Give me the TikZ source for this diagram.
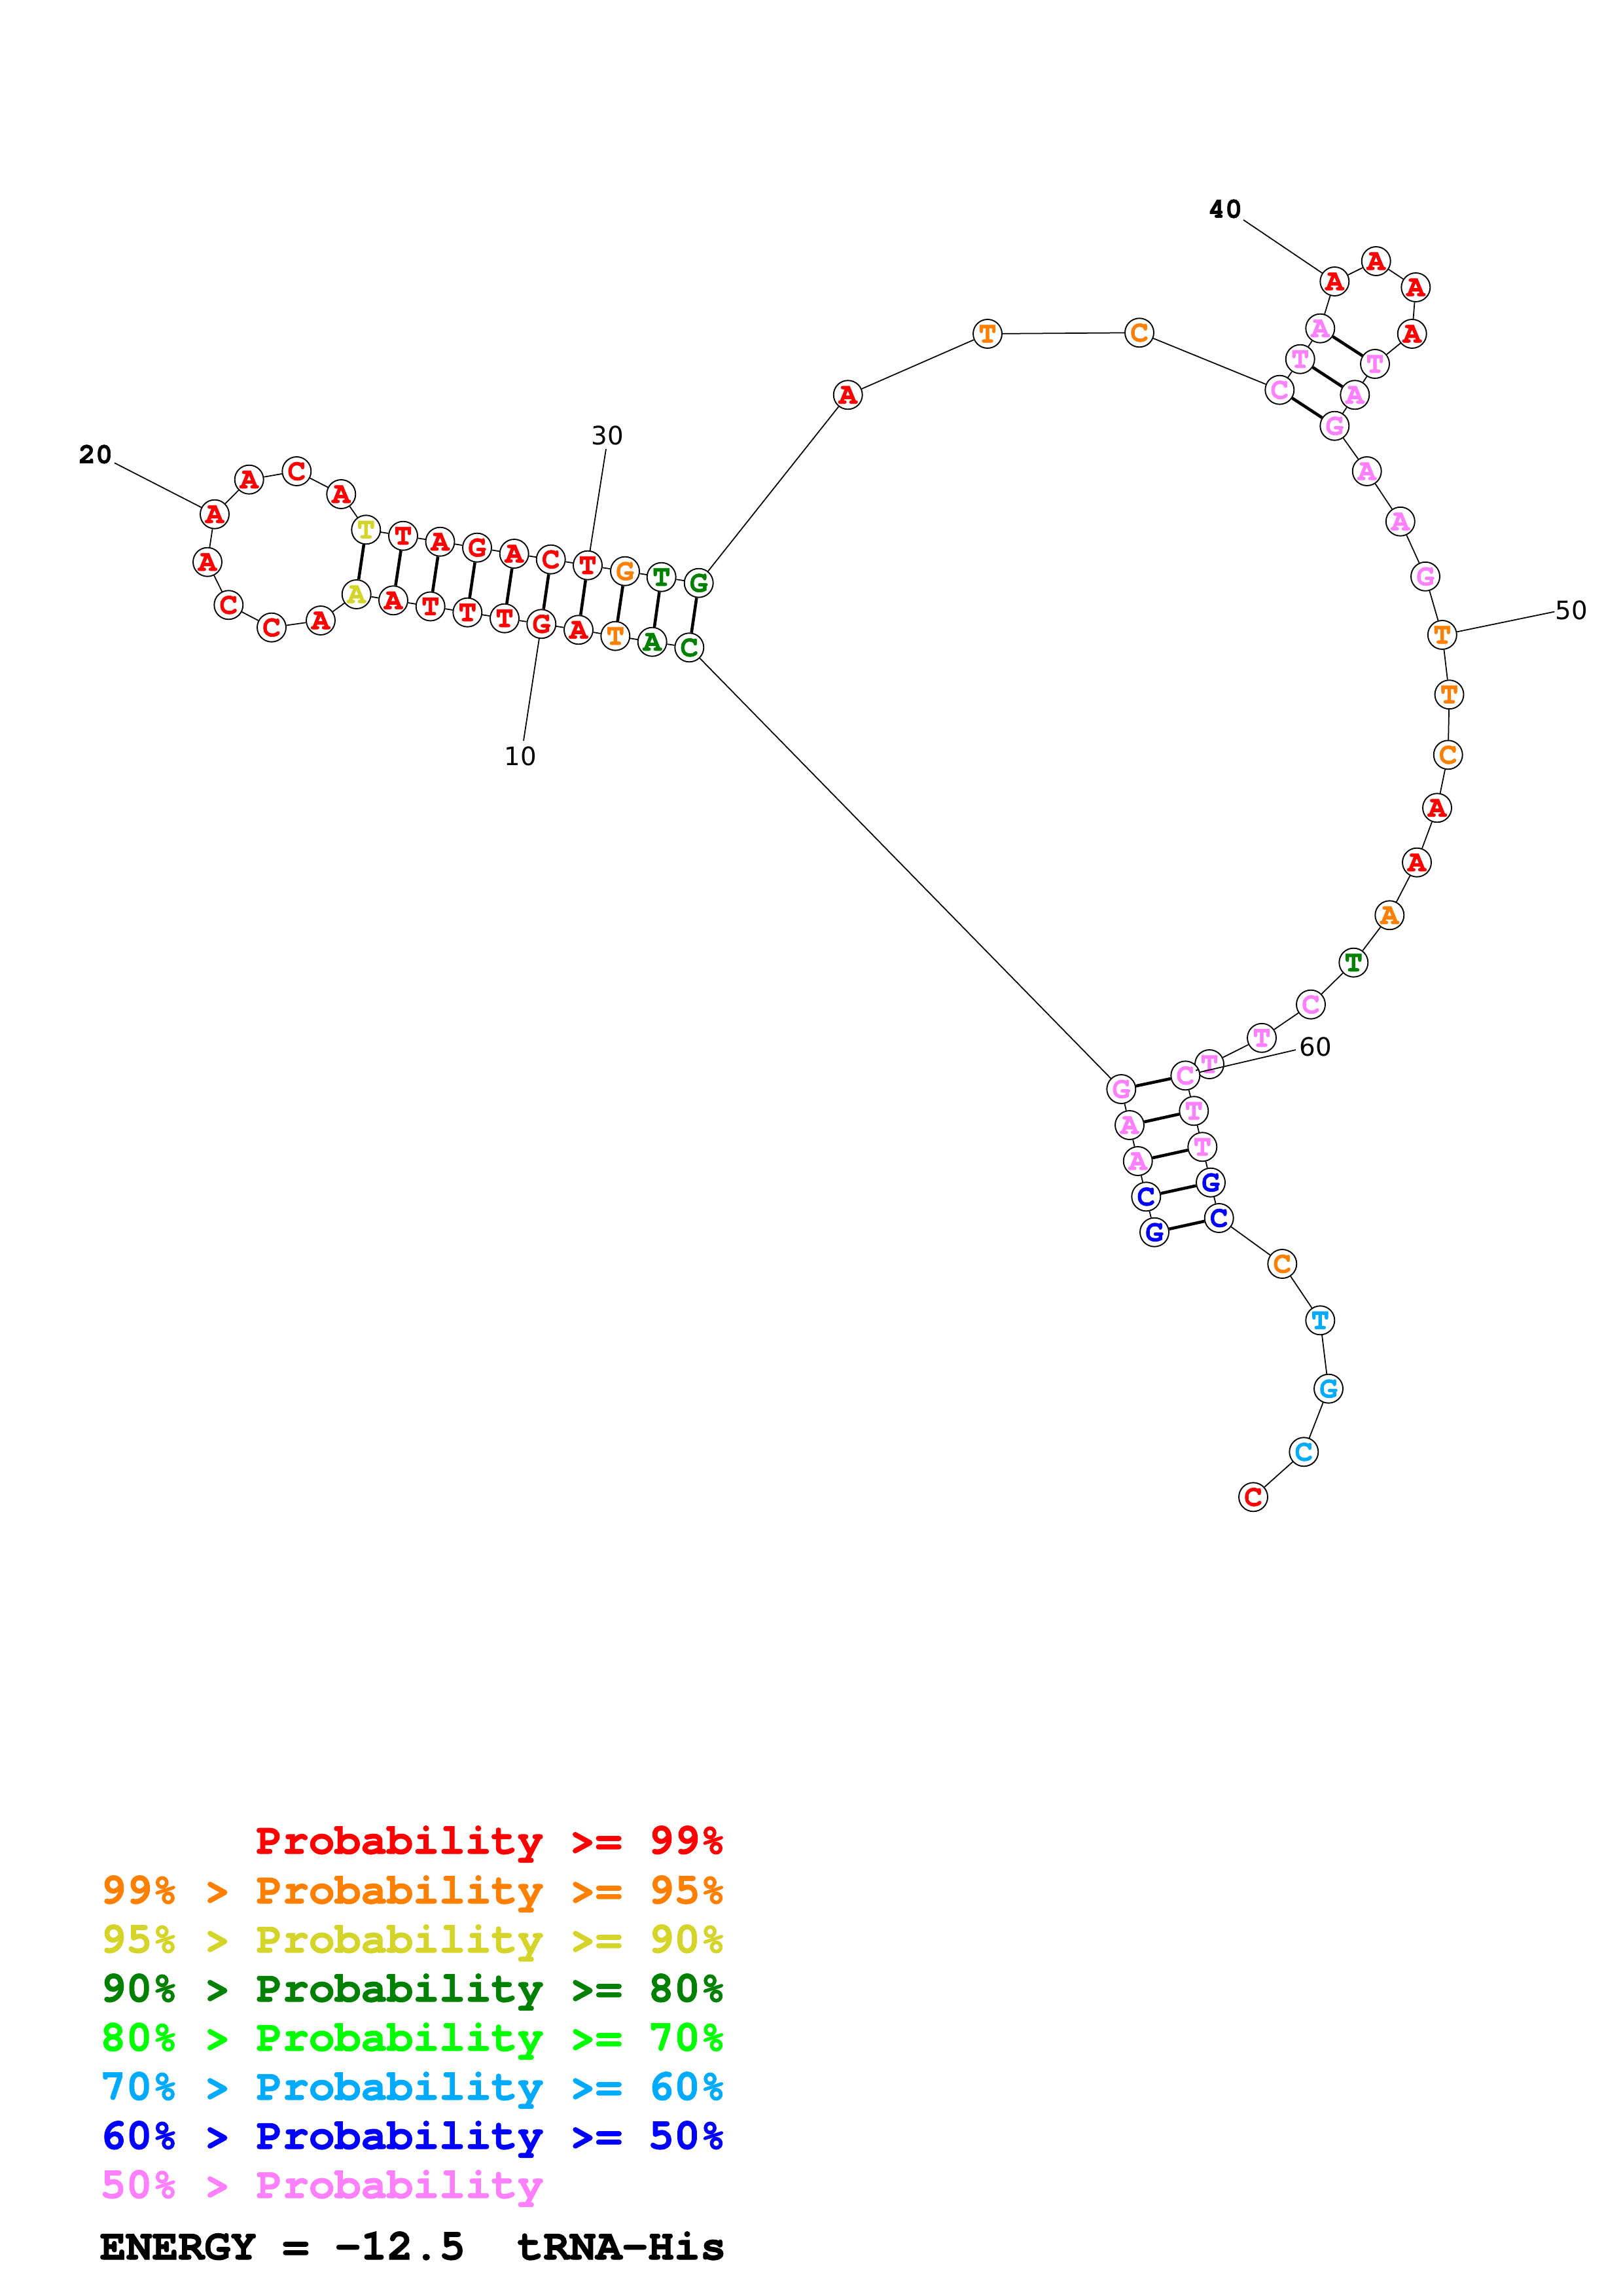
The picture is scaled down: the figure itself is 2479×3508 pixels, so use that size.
\documentclass[tikz,border=0pt]{standalone}
\usepackage{fontspec}
\newfontfamily\monob{texgyrecursor-bold.otf}[FakeBold=1.6]
\newfontfamily\labsans{DejaVu Sans}
\definecolor{pr}{RGB}{255,0,0}
\definecolor{po}{RGB}{255,128,0}
\definecolor{py}{RGB}{212,212,42}
\definecolor{pg}{RGB}{0,128,0}
\definecolor{plg}{RGB}{0,255,0}
\definecolor{plb}{RGB}{0,170,255}
\definecolor{pb}{RGB}{0,0,255}
\definecolor{pp}{RGB}{255,128,255}
\begin{document}
\begin{tikzpicture}[x=0.24pt,y=-0.24pt,
  nt/.style={circle,draw=black,fill=white,line width=0.45pt,minimum size=10.56pt,inner sep=0pt,
    font=\monob\fontsize{11}{11}\selectfont},
  bb/.style={line width=0.42pt},
  bp/.style={line width=1.1pt},
  numsans/.style={inner sep=0pt,font=\labsans\fontsize{9.3}{9.3}\selectfont},
  nummono/.style={inner sep=0pt,font=\monob\fontsize{10.5}{10.5}\selectfont},
  legend/.style={anchor=base west,inner sep=0pt,font=\monob\fontsize{15.95}{18}\selectfont}]
\fill[white] (0,0) rectangle (2479,3508);
\useasboundingbox (0,0) rectangle (2479,3508);
% nucleotides
\foreach \i/\xx/\yy/\lt/\col in {
 1/1764/1882.7/G/pb, 2/1751.3/1828.3/C/pb, 3/1738.7/1774/A/pp, 4/1726/1719/A/pp, 5/1713.3/1664/G/pp,
 6/1053.3/989.3/C/pg, 7/996.7/980.7/A/pg, 8/940.3/971.7/T/po, 9/884/962.3/A/pr, 10/827.3/953.3/G/pr,
 11/771/944.7/T/pr, 12/714.3/935.7/T/pr, 13/657.7/926.5/T/pr, 14/601/917.3/A/pr, 15/544.7/908/A/py,
 16/490/948/A/pr, 17/415/958.7/C/pr, 18/349.3/924.3/C/pr, 19/317/858.7/A/pr, 20/328/785.7/A/pr,
 21/380.7/732.7/A/pr, 22/453.3/720/C/pr, 23/521.3/755/A/pr, 24/559.3/809.3/T/py, 25/616/818.7/T/pr,
 26/672.5/827.7/A/pr, 27/729/836.7/G/pr, 28/785.7/846/A/pr, 29/841.7/854.7/C/pr, 30/898/863.7/T/pr,
 31/955/872.7/G/po, 32/1010.7/881.7/T/pg, 33/1067.7/890.7/G/pg, 34/1295.7/603.3/A/pr, 35/1509/510/T/po,
 36/1741/508.3/C/po, 37/1955.3/595.7/C/pp, 38/1986.7/548.7/T/pp, 39/2017.3/501.7/A/pp, 40/2039.3/430/A/pr,
 41/2102.7/399/A/pr, 42/2163.3/439/A/pr, 43/2157.7/510/A/pr, 44/2101/556/T/pp, 45/2070.3/603.3/A/pp,
 46/2039.3/650.7/G/pp, 47/2088.7/720/A/pp, 48/2139.8/796.8/A/pp, 49/2178/880.8/G/pp, 50/2203.8/970/T/po,
 51/2214.5/1061.2/T/po, 52/2212.7/1153.3/C/po, 53/2196/1234.3/A/pr, 54/2165/1317.7/A/pr, 55/2123.3/1398.3/A/po,
 56/2068.3/1470.7/T/pg, 57/2003/1534.7/C/pp, 58/1928/1585.8/T/pp, 59/1848/1626/T/pp, 60/1811.3/1643.3/C/pp,
 61/1824.3/1697.3/T/pp, 62/1837.3/1752.3/T/pp, 63/1850/1806.7/G/pb, 64/1862.7/1861/C/pb, 65/1959.3/1931/C/po,
 66/2017.3/2017.3/T/plb, 67/2030/2121.7/G/plb, 68/1992.3/2218.3/C/plb, 69/1915/2287.3/C/pr}
 {\node[nt,text=\col] (n\i) at (\xx,\yy) {\lt};}
% backbone
\foreach \i in {1,...,68}{\pgfmathtruncatemacro\j{\i+1}\draw[bb] (n\i) -- (n\j);}
% base pairs
\foreach \a/\b in {1/64,2/63,3/62,4/61,5/60,6/33,7/32,8/31,9/30,10/29,11/28,12/27,13/26,14/25,15/24,37/46,38/45,39/44}
 {\draw[bp] (n\a) -- (n\b);}
% position labels
\coordinate (l10) at (800,1131.7);
\coordinate (l20) at (175,707.3);
\coordinate (l30) at (926,686);
\coordinate (l40) at (1900,336);
\coordinate (l50) at (2375.3,934.6);
\coordinate (l60) at (1980,1604);
\draw[bb] (n10) -- (l10);
\draw[bb] (n20) -- (l20);
\draw[bb] (n30) -- (l30);
\draw[bb] (n40) -- (l40);
\draw[bb] (n50) -- (l50);
\draw[bb] (n60) -- (l60);
\node[numsans] (t10) at (795,1155) {10};
\node[nummono] (t20) at (146,694) {20};
\node[numsans] (t30) at (928,665) {30};
\node[nummono] (t40) at (1872,319) {40};
\node[numsans] (t50) at (2401,932) {50};
\node[numsans] (t60) at (2010,1599) {60};
% legend
\node[legend,text=pr] (g1) at (391,2832) {Probability >= 99\%};
\node[legend,text=po] (g2) at (152,2908) {99\% > Probability >= 95\%};
\node[legend,text=py] (g3) at (152,2983) {95\% > Probability >= 90\%};
\node[legend,text=pg] (g4) at (152,3058) {90\% > Probability >= 80\%};
\node[legend,text=plg] (g5) at (152,3133) {80\% > Probability >= 70\%};
\node[legend,text=plb] (g6) at (152,3208) {70\% > Probability >= 60\%};
\node[legend,text=pb] (g7) at (152,3283) {60\% > Probability >= 50\%};
\node[legend,text=pp] (g8) at (152,3358) {50\% > Probability};
\node[legend,text=black] (g9) at (152,3452) {ENERGY = -12.5\ \ tRNA-His};
\end{tikzpicture}
\end{document}
